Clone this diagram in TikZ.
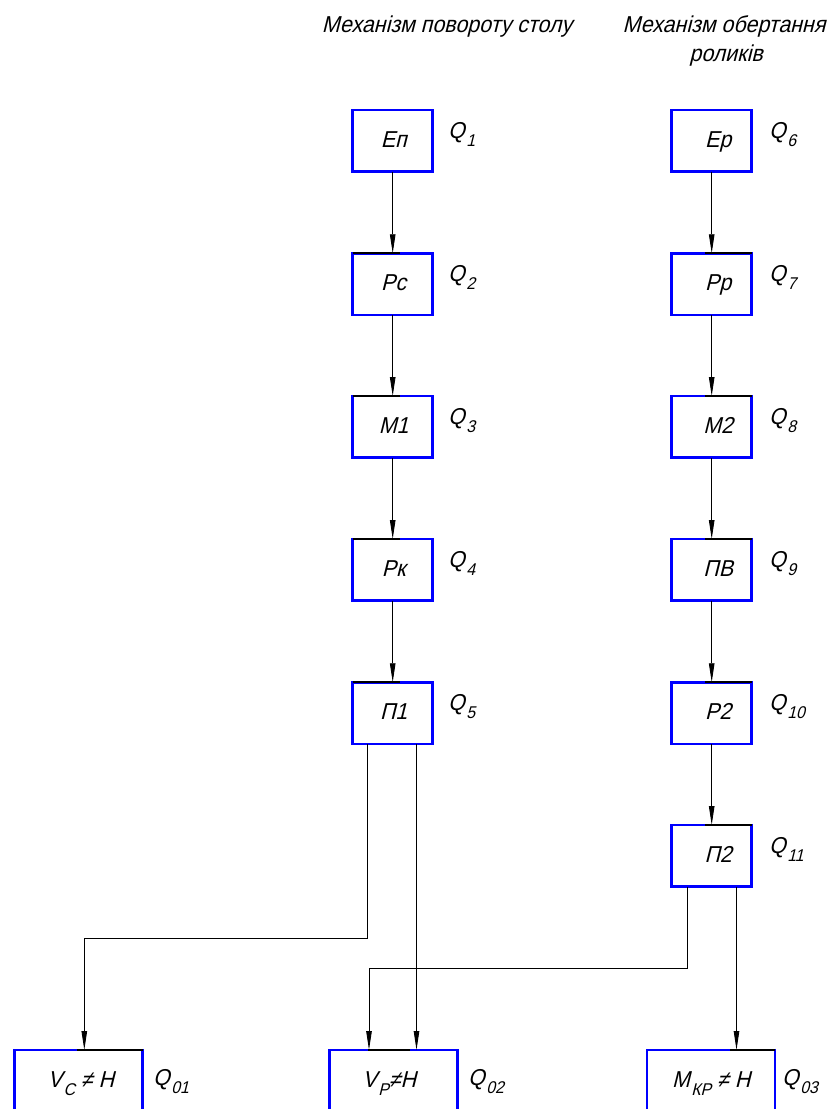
\documentclass[tikz,border=0pt]{standalone}
\usepackage{fontspec}
\setmainfont{Liberation Sans}[FakeSlant=0.25,FakeStretch=0.93]
\usetikzlibrary{arrows.meta}
\newcommand{\lsub}[1]{\kern1.5pt\raisebox{-8pt}{\fontsize{17}{17}\selectfont #1}}
\begin{document}
\begin{tikzpicture}[x=1pt,y=-1pt,
  box/.style={draw=blue, line width=2.5pt, outer sep=0pt, minimum width=80pt, minimum height=61.5pt,
    inner sep=0pt, text height=16.5pt, text depth=3pt, font=\fontsize{23}{27}\selectfont},
  wbox/.style={box, minimum width=128pt, minimum height=62pt},
  ql/.style={anchor=base west, inner sep=0pt, font=\fontsize{23}{27}\selectfont},
  ttl/.style={anchor=base, inner sep=0pt, font=\fontsize{23}{27}\selectfont},
  arr/.style={draw=black, line width=0.9pt, -{Triangle[length=19pt,width=5.5pt]}},
  topseg/.style={draw=black, line width=2.2pt}
]
\useasboundingbox (0,0) rectangle (836,1109);
% titles
\node[ttl] (t1) at (447,32) {Механізм повороту столу};
\node[ttl] (t2a) at (724,32) {Механізм обертання};
\node[ttl] (t2b) at (726,61) {роликів};
% left column
\node[box] (ep) at (392.7,140.75) {\hspace*{2pt}Еп};
\node[box] (rc) at (392.7,284) {\hspace*{2pt}Рс};
\node[box] (m1) at (392.7,426.75) {\hspace*{2pt}М1};
\node[box] (rk) at (392.7,569.75) {\hspace*{2pt}Рк};
\node[box] (p1) at (392.7,713) {\hspace*{2pt}П1};
% right column
\node[box] (er) at (711.7,140.75) {\hspace*{13pt}Ер};
\node[box] (rr) at (711.7,284) {\hspace*{13pt}Рр};
\node[box] (m2) at (711.7,426.75) {\hspace*{13pt}М2};
\node[box] (pv) at (711.7,569.75) {\hspace*{13pt}ПВ};
\node[box] (r2) at (711.7,713) {\hspace*{13pt}Р2};
\node[box] (p2) at (711.7,855.75) {\hspace*{13pt}П2};
% bottom
\node[wbox] (vc) at (78.5,1081) {\hspace*{5pt}V\lsub{С} ≠ Н};
\node[wbox] (vp) at (393.3,1081) {V\lsub{Р}≠Н\hspace*{8pt}};
\node[wbox] (mk) at (711.2,1081) {М\lsub{КР} ≠ Н};
% Q labels
\node[ql] (q1) at (448,138.3) {Q\lsub{1}};
\node[ql] (q2) at (448,281.5) {Q\lsub{2}};
\node[ql] (q3) at (448,424.3) {Q\lsub{3}};
\node[ql] (q4) at (448,567.3) {Q\lsub{4}};
\node[ql] (q5) at (448,710.5) {Q\lsub{5}};
\node[ql] (q6) at (769,138.3) {Q\lsub{6}};
\node[ql] (q7) at (769,281.5) {Q\lsub{7}};
\node[ql] (q8) at (769,424.3) {Q\lsub{8}};
\node[ql] (q9) at (769,567.3) {Q\lsub{9}};
\node[ql] (q10) at (769,710.5) {Q\lsub{10}};
\node[ql] (q11) at (769,853.3) {Q\lsub{11}};
\node[ql] (q01) at (153,1085.5) {Q\lsub{01}};
\node[ql] (q02) at (468,1085.5) {Q\lsub{02}};
\node[ql] (q03) at (782,1085.5) {Q\lsub{03}};
% black segments on top edges
\foreach \b in {rc,m1,rk,p1} {\draw[topseg] (\b.north west) -- ([xshift=7.3pt]\b.north);}
\foreach \b in {rr,m2,pv,r2,p2} {\draw[topseg] ([xshift=-6.7pt]\b.north) -- (\b.north east);}
\draw[topseg] ([xshift=-1.8pt]vc.north) -- (vc.north east);
\draw[topseg] ([xshift=-25.3pt]vp.north) -- ([xshift=16.7pt]vp.north);
\draw[topseg] ([xshift=19pt]mk.north) -- (mk.north east);
% vertical chains
\draw[arr] (ep) -- (rc);
\draw[arr] (rc) -- (m1);
\draw[arr] (m1) -- (rk);
\draw[arr] (rk) -- (p1);
\draw[arr] (er) -- (rr);
\draw[arr] (rr) -- (m2);
\draw[arr] (m2) -- (pv);
\draw[arr] (pv) -- (r2);
\draw[arr] (r2) -- (p2);
% branches to bottom
\coordinate (k1) at (367,938.3);
\coordinate (k2) at (84.3,938.3);
\draw[arr] (p1.south -| k1) -- (k1) -- (k2) -- (vc.north -| k2);
\coordinate (k3) at (416.5,0);
\draw[arr] (p1.south -| k3) -- (vp.north -| k3);
\coordinate (k4) at (687.7,968.3);
\coordinate (k5) at (369,968.3);
\draw[arr] (p2.south -| k4) -- (k4) -- (k5) -- (vp.north -| k5);
\coordinate (k6) at (736.5,0);
\draw[arr] (p2.south -| k6) -- (mk.north -| k6);
\end{tikzpicture}
\end{document}
